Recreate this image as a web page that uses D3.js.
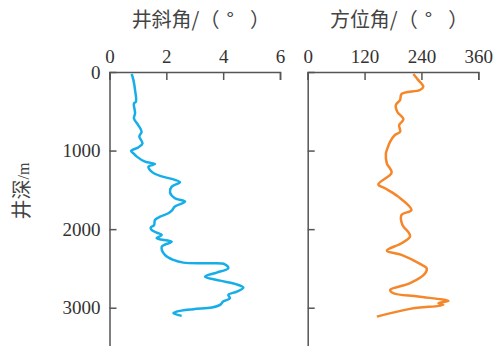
<!DOCTYPE html>
<html>
<head>
<meta charset="utf-8">
<script src="https://cdn.jsdelivr.net/npm/d3@7/dist/d3.min.js"></script>
<style>
  body { margin: 0; background: #fff; }
  .axis path, .axis line { stroke: #555; stroke-width: 1.5px; }
  .axis text { fill: #333; font-family: "Liberation Serif", "DejaVu Serif", "Times New Roman", serif; font-size: 19px; }
  .title { font-family: "Noto Sans CJK SC", sans-serif; font-size: 20px; fill: #444; }
</style>
</head>
<body>
<div id="chart"></div>
<script>
// well inclination (deg) vs depth (m)
var incDepth = [25, 100, 230, 380, 400, 525, 590, 675, 760, 820, 910, 960, 1005, 1035, 1077, 1141, 1170, 1205, 1268, 1323, 1361, 1404, 1459, 1535, 1607, 1650, 1713, 1760, 1798, 1841, 1883, 1947, 1980, 2010, 2044, 2074, 2116, 2159, 2222, 2328, 2392, 2426, 2434, 2447, 2497, 2553, 2604, 2655, 2697, 2744, 2795, 2837, 2879, 2922, 2964, 2998, 3019, 3050, 3070, 3104];
var incValue = [0.78, 0.84, 0.90, 0.93, 0.86, 0.90, 0.86, 1.01, 1.13, 1.05, 1.16, 1.01, 0.76, 0.84, 0.96, 1.25, 1.60, 1.37, 1.48, 1.78, 2.19, 2.48, 2.19, 2.13, 2.30, 2.66, 2.30, 2.20, 2.07, 1.78, 1.60, 1.57, 1.45, 1.48, 1.66, 1.84, 1.66, 2.19, 1.84, 1.95, 2.25, 2.60, 3.54, 4.06, 4.18, 3.77, 3.36, 3.89, 4.42, 4.71, 4.48, 4.18, 4.24, 4.00, 3.89, 3.60, 2.95, 2.36, 2.25, 2.54];

// azimuth (deg) vs depth (m)
var aziDepth = [25, 100, 187, 229, 280, 356, 420, 505, 602, 675, 760, 802, 887, 992, 1035, 1162, 1281, 1429, 1480, 1586, 1756, 1819, 1947, 2052, 2095, 2180, 2273, 2328, 2455, 2497, 2561, 2688, 2773, 2816, 2858, 2913, 2943, 2964, 3015, 3113];
var aziValue = [223, 233, 244, 237, 198, 195, 186, 189, 202, 193, 195, 184, 174, 167, 165, 167, 177, 149, 163, 191, 219, 198, 200, 214, 216, 198, 167, 198, 241, 251, 248, 216, 174, 181, 233, 297, 276, 286, 216, 146];

var incTicks = [0, 2, 4, 6];
var aziTicks = [0, 120, 240, 360];
var depthTicks = [0, 1000, 2000, 3000];

var width = 501, height = 346;
var top0 = 72;
var serif = "'Liberation Serif', 'DejaVu Serif', serif";

var svg = d3.select("#chart").append("svg")
    .attr("width", width)
    .attr("height", height);

var yScale = d3.scaleLinear()
    .domain([0, 3500])
    .range([top0, top0 + 275]);

var panels = [
    {left: 109.5, right: 280, domain: [0, 6], ticks: incTicks, depth: incDepth, value: incValue,
     color: "#16aee9", title: "井斜角/（", yLabels: true},
    {left: 307.7, right: 478.3, domain: [0, 360], ticks: aziTicks, depth: aziDepth, value: aziValue,
     color: "#f6862a", title: "方位角/（", yLabels: false}
];

panels.forEach(function(p) {
    var x = d3.scaleLinear().domain(p.domain).range([p.left, p.right]);

    var gx = svg.append("g")
        .attr("class", "axis")
        .attr("transform", "translate(0," + top0 + ")")
        .call(d3.axisTop(x).tickValues(p.ticks).tickFormat(d3.format("d"))
            .tickSizeInner(-8).tickSizeOuter(-8).tickPadding(9));
    gx.selectAll("text").style("font-family", serif).style("font-size", "19px");

    var yAxis = d3.axisLeft(yScale).tickValues(depthTicks).tickFormat(d3.format("d"))
        .tickSizeInner(-7).tickSizeOuter(0).tickPadding(9);
    if (!p.yLabels) yAxis.tickFormat("");
    var gy = svg.append("g")
        .attr("class", "axis")
        .attr("transform", "translate(" + p.left + ",0)")
        .call(yAxis);
    gy.selectAll("text").style("font-family", serif).style("font-size", "19px");

    var line = d3.line()
        .x(function(d, i) { return x(p.value[i]); })
        .y(function(d) { return yScale(d); })
        .curve(d3.curveCatmullRom.alpha(0.5));

    svg.append("path")
        .attr("d", line(p.depth))
        .attr("fill", "none")
        .attr("stroke", p.color)
        .attr("stroke-width", 2.5)
        .attr("stroke-linejoin", "round");

    var t = svg.append("text")
        .attr("class", "title")
        .attr("x", (p.left + p.right) / 2 + 6)
        .attr("y", 27)
        .attr("text-anchor", "middle");
    t.append("tspan").text(p.title);
    t.append("tspan").attr("dx", 7).text("°");
    t.append("tspan").attr("dx", 16).text("）");
});

var yl = svg.append("text")
    .attr("class", "title")
    .attr("transform", "translate(29,191) rotate(-90)")
    .attr("text-anchor", "middle");
yl.append("tspan").text("井深");
yl.append("tspan").style("font-family", serif).style("font-size", "16px").text("/m");
</script>
</body>
</html>
